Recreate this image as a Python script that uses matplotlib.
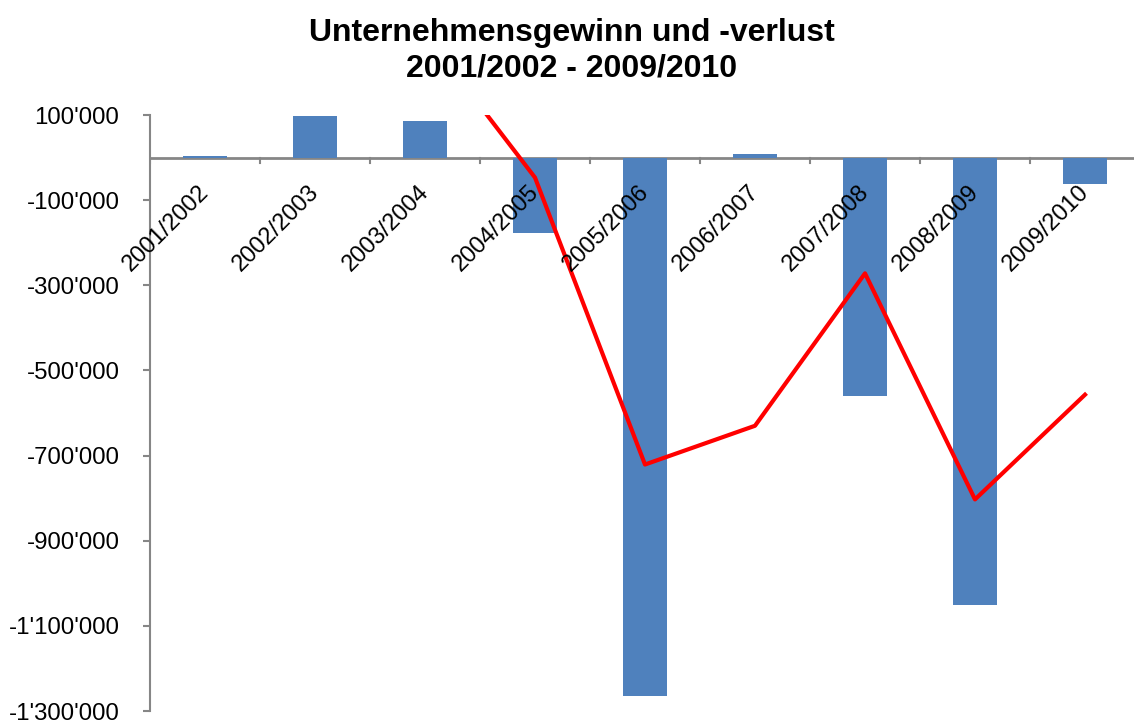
import matplotlib.pyplot as plt
import numpy as np

plt.rcParams['font.family'] = ['Liberation Sans', 'DejaVu Sans']

years = ['2001/2002', '2002/2003', '2003/2004', '2004/2005', '2005/2006',
         '2006/2007', '2007/2008', '2008/2009', '2009/2010']
gewinn = [3000, 98000, 87000, -178000, -1264000, 9000, -559000, -1050000, -63000]
trend = [np.nan, np.nan, 290000, -47000, -721000, -630000, -272000, -803000, -557000]
yticks = [100000, -100000, -300000, -500000, -700000, -900000, -1100000, -1300000]


def fmt(v):
    return '{:,}'.format(v).replace(',', "'")


fig = plt.figure(figsize=(11.34, 7.2), dpi=100)
ax = fig.add_axes([150 / 1134, 1 - 711 / 720, 990 / 1134, 596 / 720])

x = np.arange(len(years))
ax.bar(x, gewinn, width=0.4, color='#4F81BD', zorder=2)
ax.plot(x, trend, color='#FF0000', lw=3, zorder=3)

ax.set_xlim(-0.5, len(years) - 0.5)
ax.set_ylim(-1300000, 100000)
ax.set_yticks(yticks)
ax.set_yticklabels([fmt(v) for v in yticks], fontsize=17.3)
ax.tick_params(axis='y', length=5, width=1.5, color='#868686', pad=17)

for s in ['top', 'right', 'bottom']:
    ax.spines[s].set_visible(False)
ax.spines['left'].set_color('#868686')
ax.spines['left'].set_linewidth(1.5)
ax.set_xticks([])

# category axis at zero
ax.axhline(0, color='#868686', lw=2, zorder=1, clip_on=False)
for b in np.arange(-0.5, len(years), 1.0):
    ax.plot([b, b], [0, -12000], color='#868686', lw=1.5, zorder=1)

for i, lab in enumerate(years):
    ax.annotate(lab, (i, 0), xytext=(-5, -17), textcoords='offset points',
                rotation=45, ha='right', va='top', rotation_mode='anchor',
                fontsize=17, zorder=4)

fig.text(0.504, 0.975, 'Unternehmensgewinn und -verlust\n2001/2002 - 2009/2010',
         ha='center', va='top', fontsize=23, fontweight='bold', linespacing=1.25)

fig.savefig('out.png', dpi=100)
